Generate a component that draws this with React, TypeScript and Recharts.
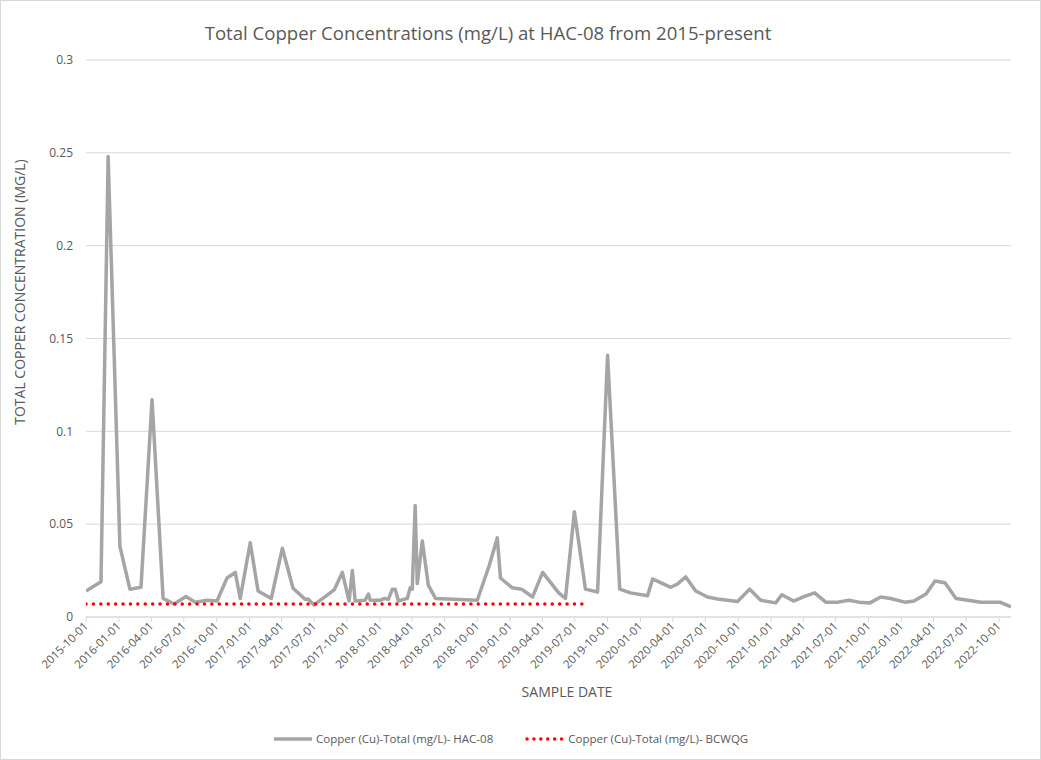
import { LineChart, Line, XAxis, YAxis, CartesianGrid } from "recharts";

// sample dates and total copper values
const sampleDates = [
    "2015-10-01", "2015-11-12", "2015-12-02", "2016-01-04", "2016-02-01", "2016-03-03",
    "2016-04-03", "2016-05-04", "2016-06-04", "2016-07-07", "2016-08-02", "2016-09-04",
    "2016-10-02", "2016-10-30", "2016-11-22", "2016-12-06", "2017-01-03", "2017-01-25",
    "2017-03-03", "2017-04-03", "2017-05-03", "2017-06-06", "2017-06-14", "2017-07-01",
    "2017-08-26", "2017-09-18", "2017-10-07", "2017-10-16", "2017-10-24", "2017-11-21",
    "2017-11-30", "2017-12-05", "2018-01-02", "2018-01-14", "2018-01-25", "2018-02-05",
    "2018-02-13", "2018-02-22", "2018-03-19", "2018-03-27", "2018-04-02", "2018-04-10",
    "2018-04-16", "2018-04-30", "2018-05-17", "2018-06-06", "2018-10-01", "2018-11-04",
    "2018-11-26", "2018-12-05", "2019-01-07", "2019-02-02", "2019-03-05", "2019-04-02",
    "2019-05-17", "2019-06-05", "2019-06-30", "2019-07-31", "2019-09-03", "2019-10-01",
    "2019-11-04", "2019-12-04", "2020-01-21", "2020-02-04", "2020-03-26", "2020-04-14",
    "2020-05-07", "2020-06-04", "2020-07-07", "2020-08-04", "2020-09-01", "2020-09-29",
    "2020-11-02", "2020-12-03", "2021-01-14", "2021-01-31", "2021-03-05", "2021-04-03",
    "2021-05-03", "2021-06-03", "2021-07-07", "2021-08-07", "2021-09-04", "2021-10-05",
    "2021-11-04", "2021-12-02", "2022-01-11", "2022-02-05", "2022-03-11", "2022-04-05",
    "2022-05-03", "2022-06-03", "2022-07-06", "2022-08-12", "2022-10-04", "2022-11-04",
];

const hacValues = [
    0.014, 0.019, 0.248, 0.038, 0.015, 0.016,
    0.117, 0.010, 0.007, 0.011, 0.008, 0.009,
    0.0086, 0.021, 0.024, 0.010, 0.040, 0.014,
    0.010, 0.037, 0.0155, 0.0095, 0.0097, 0.0065,
    0.0146, 0.024, 0.0086, 0.025, 0.0086, 0.009,
    0.0124, 0.009, 0.009, 0.010, 0.0095, 0.015,
    0.015, 0.0086, 0.010, 0.0157, 0.015, 0.060,
    0.018, 0.041, 0.017, 0.010, 0.009, 0.028,
    0.0426, 0.021, 0.0157, 0.015, 0.0108, 0.024,
    0.013, 0.010, 0.0567, 0.015, 0.0135, 0.141,
    0.015, 0.013, 0.0115, 0.0205, 0.016, 0.0178,
    0.0216, 0.014, 0.0108, 0.0097, 0.009, 0.0083,
    0.015, 0.009, 0.0076, 0.012, 0.0086, 0.011,
    0.013, 0.008, 0.008, 0.009, 0.008, 0.0076,
    0.0108, 0.010, 0.008, 0.0086, 0.0124, 0.0194,
    0.0184, 0.010, 0.009, 0.008, 0.008, 0.0055,
];

// BC water quality guideline, shown only to mid 2019
const guidelineDates = ["2015-10-01", "2019-07-31"];
const guidelineValues = [0.007, 0.007];

const dateTicks = [
    "2015-10-01", "2016-01-01", "2016-04-01", "2016-07-01", "2016-10-01",
    "2017-01-01", "2017-04-01", "2017-07-01", "2017-10-01", "2018-01-01",
    "2018-04-01", "2018-07-01", "2018-10-01", "2019-01-01", "2019-04-01",
    "2019-07-01", "2019-10-01", "2020-01-01", "2020-04-01", "2020-07-01",
    "2020-10-01", "2021-01-01", "2021-04-01", "2021-07-01", "2021-10-01",
    "2022-01-01", "2022-04-01", "2022-07-01", "2022-10-01",
];

const yTicks = [0, 0.05, 0.1, 0.15, 0.2, 0.25, 0.3];

const FONT = "'Open Sans', 'Liberation Sans', sans-serif";
const TEXT = "#595959";

const toTime = (d: string) => Date.parse(d + "T00:00:00Z");
const fmtDate = (t: number) => new Date(t).toISOString().slice(0, 10);

const hacData = sampleDates.map((d, i) => ({ t: toTime(d), cu: hacValues[i] }));
const guideData = guidelineDates.map((d, i) => ({ t: toTime(d), g: guidelineValues[i] }));

function DateTick({ x, y, payload }: { x?: number; y?: number; payload?: { value: number } }) {
    if (x == null || y == null || !payload) return null;
    return (
        <text
            x={x}
            y={y}
            dy={4}
            transform={`rotate(-45 ${x} ${y})`}
            textAnchor="end"
            fill={TEXT}
            fontSize={11.5}
            fontFamily={FONT}
        >
            {fmtDate(payload.value)}
        </text>
    );
}

export default function App() {
    return (
        <div
            style={{
                position: "absolute",
                left: 0,
                top: 0,
                width: 1041,
                height: 760,
                background: "#fff",
                border: "1px solid #d9d9d9",
                boxSizing: "border-box",
                fontFamily: FONT,
                color: TEXT,
            }}
        >
            <div style={{ position: "absolute", left: -1, top: 0 }}>
                <LineChart width={1041} height={760} margin={{ top: 59, right: 30, bottom: 64, left: 0 }}>
                    <CartesianGrid vertical={false} stroke="#d9d9d9" strokeWidth={1} />
                    <XAxis
                        type="number"
                        dataKey="t"
                        scale="time"
                        domain={[toTime("2015-10-01"), toTime("2022-11-04")]}
                        ticks={dateTicks.map(toTime)}
                        tick={<DateTick />}
                        interval={0}
                        height={80}
                        tickSize={5}
                        tickMargin={2}
                        stroke="#d9d9d9"
                        allowDataOverflow
                    />
                    <YAxis
                        type="number"
                        domain={[0, 0.3]}
                        ticks={yTicks}
                        width={86}
                        axisLine={false}
                        tickLine={false}
                        tickMargin={7}
                        tick={{ fill: TEXT, fontSize: 12, fontFamily: FONT }}
                    />
                    <Line
                        data={hacData}
                        dataKey="cu"
                        type="linear"
                        stroke="#a5a5a5"
                        strokeWidth={3.5}
                        strokeLinejoin="round"
                        dot={false}
                        activeDot={false}
                        isAnimationActive={false}
                    />
                    <Line
                        data={guideData}
                        dataKey="g"
                        type="linear"
                        stroke="#ff0000"
                        strokeWidth={3.4}
                        strokeLinecap="round"
                        strokeDasharray="0.1 7.3"
                        dot={false}
                        activeDot={false}
                        isAnimationActive={false}
                    />
                </LineChart>
            </div>

            {/* chart title */}
            <div
                style={{
                    position: "absolute",
                    left: 0,
                    width: 974,
                    top: 19,
                    textAlign: "center",
                    fontSize: 18.6,
                    lineHeight: "26px",
                }}
            >
                Total Copper Concentrations (mg/L) at HAC-08 from 2015-present
            </div>

            {/* axis titles */}
            <div
                style={{
                    position: "absolute",
                    left: 19,
                    top: 291,
                    transform: "translate(-50%, -50%) rotate(-90deg)",
                    whiteSpace: "nowrap",
                    fontSize: 14,
                    lineHeight: "16px",
                }}
            >
                TOTAL COPPER CONCENTRATION (MG/L)
            </div>
            <div
                style={{
                    position: "absolute",
                    left: 566,
                    top: 691,
                    transform: "translate(-50%, -50%)",
                    whiteSpace: "nowrap",
                    fontSize: 14,
                    lineHeight: "16px",
                }}
            >
                SAMPLE DATE
            </div>

            {/* legend */}
            <div
                style={{
                    position: "absolute",
                    left: 272,
                    top: 730,
                    display: "flex",
                    alignItems: "center",
                    fontSize: 11.5,
                    lineHeight: "16px",
                    whiteSpace: "nowrap",
                }}
            >
                <svg width={40} height={8} style={{ marginRight: 3 }}>
                    <line x1={1} y1={4} x2={39} y2={4} stroke="#a5a5a5" strokeWidth={3.5} />
                </svg>
                <span>Copper (Cu)-Total (mg/L)- HAC-08</span>
                <svg width={40} height={8} style={{ marginLeft: 32, marginRight: 3 }}>
                    <line
                        x1={2}
                        y1={4}
                        x2={38}
                        y2={4}
                        stroke="#ff0000"
                        strokeWidth={3.4}
                        strokeLinecap="round"
                        strokeDasharray="0.1 6.8"
                    />
                </svg>
                <span>Copper (Cu)-Total (mg/L)- BCWQG</span>
            </div>
        </div>
    );
}
